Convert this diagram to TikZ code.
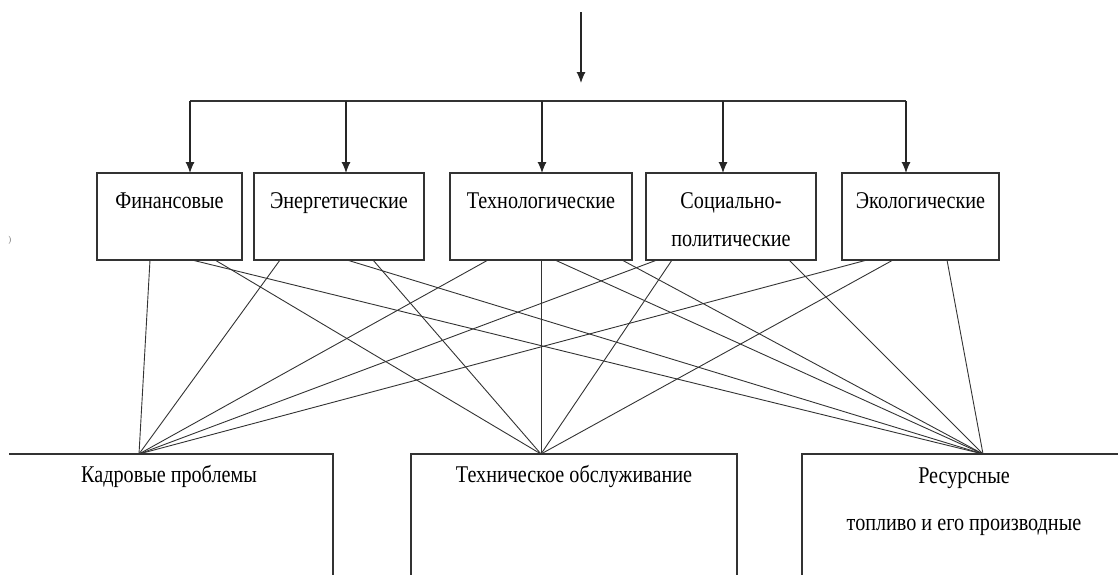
\documentclass[tikz,border=0pt]{standalone}
\usepackage{fontspec}
\setmainfont{Liberation Serif}[FakeStretch=0.84]
\usetikzlibrary{positioning, calc, arrows.meta}
\tikzset{
    factor/.style={rectangle, draw=black!80, line width=1.3pt, minimum height=87pt, inner sep=0pt, outer sep=0pt},
    caption/.style={anchor=base, inner sep=0pt, font=\fontsize{24}{28}\selectfont},
    feed/.style={draw=black!85, line width=1.1pt, -{Latex[length=11pt,width=9pt]}},
    link/.style={draw=black!80, line width=0.9pt},
    frame/.style={draw=black!80, line width=1.3pt}
}

\begin{document}
\begin{tikzpicture}[x=1pt, y=-1pt]
    \useasboundingbox (0,0) rectangle (1118,574);

    % top row of factors
    \node (fin) [factor, minimum width=145pt] at (169.5,216.5) {};
    \node (ener) [factor, minimum width=170pt, right=12pt of fin] {};
    \node (tech) [factor, minimum width=182pt, right=26pt of ener] {};
    \node (soc) [factor, minimum width=170pt, right=14pt of tech] {};
    \node (eco) [factor, minimum width=157pt, right=26pt of soc] {};

    \node (finT) [caption] at ([yshift=-35pt]fin.north) {Финансовые};
    \node (enerT) [caption] at ([yshift=-35pt]ener.north) {Энергетические};
    \node (techT) [caption] at ([yshift=-35pt]tech.north) {Технологические};
    \node (socT) [caption] at ([yshift=-35pt]soc.north) {Социально-};
    \node (socT2) [caption] at ([yshift=-73pt]soc.north) {политические};
    \node (ecoT) [caption] at ([yshift=-35pt]eco.north) {Экологические};

    % input arrow and bus
    \coordinate (src) at (581,12);
    \coordinate (srcEnd) at (581,83);
    \coordinate (busL) at (190,101);
    \coordinate (busR) at (906,101);
    \draw [feed] (src) -- (srcEnd);
    \draw [link, line width=1.1pt] (busL) -- (busR);
    \foreach \n/\dx in {fin/20.5, ener/7, tech/1, soc/-8, eco/-14.5}
        \draw [feed] ([xshift=\dx pt]\n.north) ++(0,-72) -- ([xshift=\dx pt]\n.north);

    % bottom row
    \coordinate (K) at (139,454);
    \coordinate (T) at (541,454);
    \coordinate (R) at (983,454);
    \draw [frame] (9,454) -- (333,454) -- (333,590);
    \draw [frame] (411,590) -- (411,454) -- (737,454) -- (737,590);
    \draw [frame] (1130,454) -- (802,454) -- (802,590);

    \node (kadr) [caption] at (169,482) {Кадровые проблемы};
    \node (serv) [caption] at (574,482) {Техническое обслуживание};
    \node (res) [caption] at (964,483) {Ресурсные};
    \node (res2) [caption] at (964,530) {топливо и его производные};

    % every factor to every problem
    \foreach \n/\dx/\t in {fin/-19.5/K, fin/45.5/T, fin/22.5/R,
                           ener/-59/K, ener/34/T, ener/8/R,
                           tech/-53/K, tech/0/T, tech/14/R, tech/81/R,
                           soc/-74/K, soc/-59/T, soc/58/R,
                           eco/-53.5/K, eco/-27.5/T, eco/26.5/R}
        \draw [link] ([xshift=\dx pt]\n.south) -- (\t);

    \node (mark) [font=\fontsize{9}{9}\selectfont, text=black!60, inner sep=0pt] at (10,240) {)};
\end{tikzpicture}
\end{document}
